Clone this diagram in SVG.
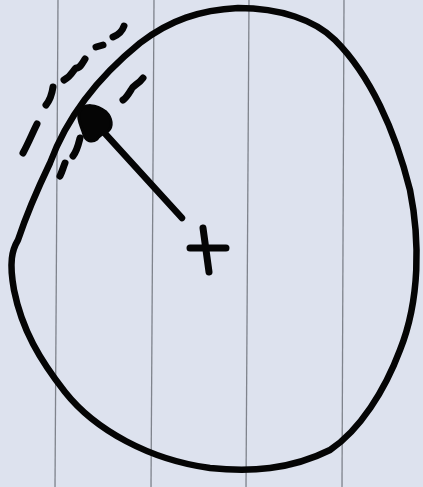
<svg xmlns="http://www.w3.org/2000/svg" width="423" height="487" viewBox="0 0 423 487">
<style>
.rule{stroke:#7f838c;stroke-width:1.3;fill:none}
.ink{stroke:#050505;fill:none;stroke-linecap:round;stroke-linejoin:round}
</style>
<rect x="0" y="0" width="423" height="487" fill="#dde2ee"/>
<g id="paper-lines">
<line class="rule" x1="58" y1="0" x2="55" y2="487"/>
<line class="rule" x1="154" y1="0" x2="151" y2="487"/>
<line class="rule" x1="249" y1="0" x2="246" y2="487"/>
<line class="rule" x1="344" y1="0" x2="342" y2="487"/>
</g>
<g id="circle">
<path class="ink" stroke-width="6.5" d="M50,163 C64,125 92,82 140,43 C170,20 200,10 238,8 C280,8 315,20 335,40 C370,75 395,130 410,190 C420,240 420,300 400,350 C385,390 360,430 330,450 C290,470 250,472 210,468 C150,460 95,430 65,392 C40,360 22,330 14,290 C9,262 12,250 18,240 C28,210 38,188 50,163"/>
</g>
<g id="center">
<path class="ink" stroke-width="7" d="M203,228 L209,272 M190,248 L226,248"/>
</g>
<g id="connectors">
<path class="ink" stroke-width="6.5" d="M182,218 L100,128"/>
<path fill="#050505" stroke="#050505" stroke-width="3" stroke-linejoin="round" d="M79,112 C84,103 96,104 106,112 C112,118 113,127 108,131 C103,134 99,135 97,139 C92,143 86,141 84,135 C82,127 77,120 79,112 Z"/>
</g>
<g id="dashes">
<path class="ink" stroke-width="7" d="M124,26 C122,32 118,35 113,37"/>
<path class="ink" stroke-width="7" d="M103,45 L96,47"/>
<path class="ink" stroke-width="7" d="M85,59 C82,64 80,68 76,68 C73,70 72,76 64,80"/>
<path class="ink" stroke-width="7" d="M53,87 C52,94 50,100 46,105"/>
<path class="ink" stroke-width="7" d="M37,124 C32,134 28,144 23,153"/>
<path class="ink" stroke-width="7" d="M143,78 C138,85 133,85 131,90 C128,95 126,98 123,100"/>
<path class="ink" stroke-width="7" d="M80,138 C78,146 77,151 73,156"/>
<path class="ink" stroke-width="7" d="M65,163 C63,168 62,172 60,176"/>
</g>
</svg>
